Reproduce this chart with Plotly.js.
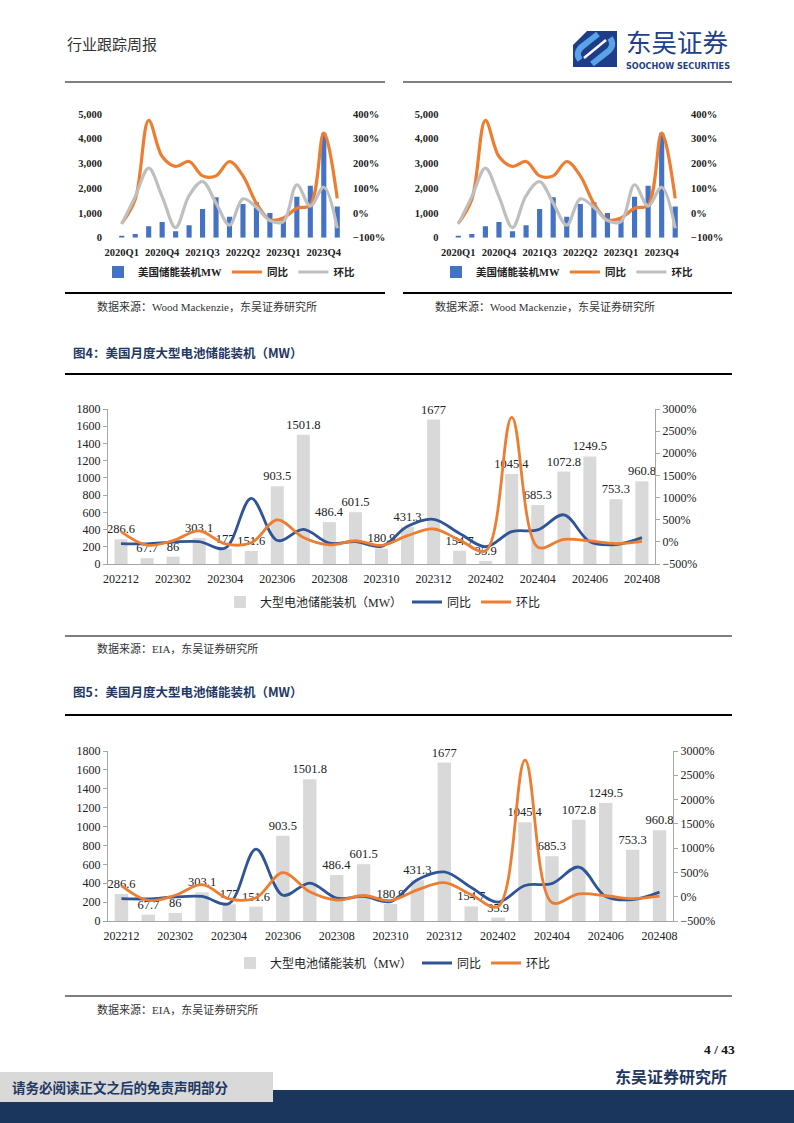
<!DOCTYPE html>
<html>
<head>
<meta charset="utf-8">
<script src="https://cdn.plot.ly/plotly-3.0.1.min.js"></script>
<style>
html,body{margin:0;padding:0;background:#fff;}
#page{width:794px;height:1123px;}
</style>
</head>
<body>
<div id="page"></div>
<script>
// ---------------- DATA ----------------
const quarters = ['2020Q1','2020Q2','2020Q3','2020Q4','2021Q1','2021Q2','2021Q3','2021Q4','2022Q1','2022Q2','2022Q3','2022Q4','2023Q1','2023Q2','2023Q3','2023Q4','2024Q1'];
const usStorageMW = [80,150,460,635,260,500,1160,1640,850,1365,1430,1000,780,1660,2095,4230,1260];
const quarterYoY = [-42,55,374,228,188,208,150,150,208,150,39,-28,-20,19,32,323,59];
const quarterQoQ = [-45,66,181,66,-59,70,127,40,-49,57,23,-31,-35,114,28,104,-62];

const months = ['202212','202301','202302','202303','202304','202305','202306','202307','202308','202309','202310','202311','202312','202401','202402','202403','202404','202405','202406','202407','202408'];
const batteryMW = [286.6,67.7,86,303.1,177,151.6,903.5,1501.8,486.4,601.5,180.9,431.3,1677,154.7,35.9,1045.4,685.3,1072.8,1249.5,753.3,960.8];
const monthYoY = [-40,-45,-5,5,-140,980,30,280,-30,5,-100,350,510,190,-110,230,270,610,5,-60,95];
const monthMoM = [230,-76,30,250,-45,-20,495,100,-68,25,-80,140,290,40,-200,2810,-120,57,20,-40,10];

const quarterNames = ['美国储能装机MW','同比','环比'];
const monthNames = ['大型电池储能装机（MW）','同比','环比'];

// ---------------- HELPERS ----------------
const W = 794, H = 1123;
const X = px => px / W;
const Y = py => 1 - py / H;
const SERIF = 'Liberation Serif, "Noto Sans CJK SC", serif';
const CJK = '"Noto Sans CJK SC", sans-serif';

const traces = [];
const layout = {
  width: W, height: H,
  margin: {l:0, r:0, t:0, b:0},
  paper_bgcolor: '#ffffff',
  plot_bgcolor: 'rgba(0,0,0,0)',
  showlegend: true,
  hovermode: false,
  font: {family: SERIF, color: '#222'},
  shapes: [],
  annotations: []
};

function quarterChart(n, x0, x1, legendX) {
  const xa = 'x' + (n === 1 ? '' : n);
  const yaN = 2*n - 1, ya2N = 2*n;
  const ya = 'y' + (yaN === 1 ? '' : yaN);
  const ya2 = 'y' + ya2N;
  const leg = 'legend' + (n === 1 ? '' : n);
  const tf = {family: SERIF, size: 10.5, weight: 'bold', color: '#222'};
  traces.push({
    type:'bar', x: quarters, y: usStorageMW, name: quarterNames[0],
    xaxis: xa, yaxis: ya, legend: leg, width: 0.38,
    marker:{color:'#4472C4'}
  });
  traces.push({
    type:'scatter', mode:'lines', x: quarters, y: quarterYoY, name: quarterNames[1],
    xaxis: xa, yaxis: ya2, legend: leg,
    line:{color:'#ED7D31', width:3.2, shape:'spline', smoothing:1}
  });
  traces.push({
    type:'scatter', mode:'lines', x: quarters, y: quarterQoQ, name: quarterNames[2],
    xaxis: xa, yaxis: ya2, legend: leg,
    line:{color:'#BFBFBF', width:3.2, shape:'spline', smoothing:1}
  });
  layout['xaxis' + (n===1?'':n)] = {
    domain:[X(x0), X(x1)], anchor: ya, type:'category',
    range:[-0.5, quarters.length - 0.5],
    tickvals: quarters.filter((q,i)=> i % 3 === 0),
    showline:false, showgrid:false, zeroline:false,
    ticks:'outside', ticklen:5, tickcolor:'rgba(0,0,0,0)',
    tickfont: tf, fixedrange:true
  };
  layout['yaxis' + (yaN===1?'':yaN)] = {
    domain:[Y(237.7), Y(114)], anchor: xa,
    range:[0,5000], dtick:1000, tickformat:',d',
    showline:false, showgrid:false, zeroline:false,
    ticks:'outside', ticklen:10, tickcolor:'rgba(0,0,0,0)',
    tickfont: tf, fixedrange:true
  };
  layout['yaxis' + ya2N] = {
    overlaying: ya, side:'right', anchor: xa,
    range:[-100,400], dtick:100, ticksuffix:'%',
    showline:false, showgrid:false, zeroline:false,
    ticks:'outside', ticklen:6, tickcolor:'rgba(0,0,0,0)',
    tickfont: tf, fixedrange:true
  };
  layout[leg] = {
    x: X(legendX), y: Y(272), xanchor:'left', yanchor:'middle',
    orientation:'h', bgcolor:'rgba(0,0,0,0)',
    font:{family:SERIF, size:10.5, weight:'bold', color:'#222'},
    itemwidth:30, tracegroupgap:0
  };
}

function monthChart(n, x0, x1, yTop, yBot, legendX, legendY) {
  const xa = 'x' + n;
  const yaN = 2*n - 1, ya2N = 2*n;
  const ya = 'y' + yaN, ya2 = 'y' + ya2N;
  const leg = 'legend' + n;
  const tf = {family: SERIF, size: 12, color: '#222'};
  traces.push({
    type:'bar', x: months, y: batteryMW, name: monthNames[0],
    xaxis: xa, yaxis: ya, legend: leg, width: 0.5,
    marker:{color:'#D9D9D9'},
    text: batteryMW.map(v => String(v)), textposition:'outside',
    constraintext:'none', cliponaxis:false,
    textfont:{family:SERIF, size:12.5, color:'#222'}
  });
  traces.push({
    type:'scatter', mode:'lines', x: months, y: monthYoY, name: monthNames[1],
    xaxis: xa, yaxis: ya2, legend: leg,
    line:{color:'#2F5597', width:2.8, shape:'spline', smoothing:1}
  });
  traces.push({
    type:'scatter', mode:'lines', x: months, y: monthMoM, name: monthNames[2],
    xaxis: xa, yaxis: ya2, legend: leg,
    line:{color:'#ED7D31', width:2.8, shape:'spline', smoothing:1}
  });
  layout['xaxis' + n] = {
    domain:[X(x0), X(x1)], anchor: ya, type:'category',
    range:[-0.5, months.length - 0.5],
    tickvals: months.filter((m,i)=> i % 2 === 0),
    showline:true, linecolor:'#A6A6A6', linewidth:1,
    showgrid:false, zeroline:false,
    ticks:'outside', ticklen:4, tickcolor:'rgba(0,0,0,0)',
    tickfont: tf, fixedrange:true
  };
  layout['yaxis' + yaN] = {
    domain:[Y(yBot), Y(yTop)], anchor: xa,
    range:[0,1800], dtick:200,
    showline:true, linecolor:'#A6A6A6', linewidth:1,
    showgrid:false, zeroline:false,
    ticks:'outside', ticklen:4, tickcolor:'#A6A6A6',
    tickfont: tf, fixedrange:true
  };
  layout['yaxis' + ya2N] = {
    overlaying: ya, side:'right', anchor: xa,
    range:[-500,3000], dtick:500, ticksuffix:'%',
    showline:true, linecolor:'#A6A6A6', linewidth:1,
    showgrid:false, zeroline:false,
    ticks:'outside', ticklen:4, tickcolor:'#A6A6A6',
    tickfont: tf, fixedrange:true
  };
  layout[leg] = {
    x: X(legendX), y: Y(legendY), xanchor:'left', yanchor:'middle',
    orientation:'h', bgcolor:'rgba(0,0,0,0)',
    font:{family:SERIF, size:12, color:'#222'},
    itemwidth:30, tracegroupgap:0
  };
}

quarterChart(1, 115, 344, 98);
quarterChart(2, 451.5, 682, 436);
monthChart(3, 108, 655, 409, 564, 220, 602);
monthChart(4, 108, 673, 751, 921, 230, 963);

// ---------------- PAGE DECORATION ----------------
function hline(y, xa, xb, w, c) {
  layout.shapes.push({type:'line', xref:'paper', yref:'paper',
    x0:X(xa), x1:X(xb), y0:Y(y), y1:Y(y), line:{color:c||'#000', width:w}});
}
function rect(xa, ya, xb, yb, c) {
  layout.shapes.push({type:'rect', xref:'paper', yref:'paper',
    x0:X(xa), x1:X(xb), y0:Y(yb), y1:Y(ya), fillcolor:c, line:{width:0}, layer:'below'});
}
function txt(s, x, y, opt) {
  opt = opt || {};
  layout.annotations.push({text:s, xref:'paper', yref:'paper', x:X(x), y:Y(y),
    xanchor: opt.xa || 'left', yanchor:'middle', showarrow:false,
    font:{family: opt.family || CJK, size: opt.size || 12, color: opt.color || '#222', weight: opt.weight || 'normal'}});
}
function path(pts, opt) {
  let d = '';
  pts.forEach((p) => {
    if (typeof p === 'string') { d += p + ' '; }
    else { d += X(p[0]) + ',' + Y(p[1]) + ' '; }
  });
  layout.shapes.push(Object.assign({type:'path', xref:'paper', yref:'paper', path:d}, opt));
}

// header
txt('行业跟踪周报', 65, 43, {size:15, color:'#333'});
// logo icon
rect(573, 31, 617, 67, '#1F3C88');
path(['M',[573,31],'L',[587,31],'L',[573,45],'Z'], {fillcolor:'#ffffff', line:{width:0}});
path(['M',[580,60],'Q',[574,52],[584,45],'L',[598,34]], {line:{color:'#5BA3E8', width:6}});
path(['M',[610,38],'Q',[616,46],[606,53],'L',[592,64]], {line:{color:'#5BA3E8', width:6}});
path(['M',[584,58],'L',[606,40]], {line:{color:'#ffffff', width:2.5}});
txt('东吴证券', 624, 41, {size:25.5, color:'#1F3F8A'});
txt('<b>SOOCHOW SECURITIES</b>', 624, 66, {size:9, color:'#1F3F8A', family:'"DejaVu Sans Condensed", "DejaVu Sans", sans-serif'});

// top pair frames
hline(82, 65, 385, 1);
hline(82, 403, 732, 1);
hline(293, 65, 385, 2);
hline(293, 403, 732, 2);
txt('数据来源：Wood Mackenzie，东吴证券研究所', 95, 306, {size:11, color:'#333', family:SERIF});
txt('数据来源：Wood Mackenzie，东吴证券研究所', 433, 306, {size:11, color:'#333', family:SERIF});

// figure 4
txt('<b>图4：美国月度大型电池储能装机（MW）</b>', 71, 352, {size:12.5, color:'#1F3864'});
hline(374, 65, 732, 2);
hline(636, 65, 732, 1);
txt('数据来源：EIA，东吴证券研究所', 95, 648, {size:11, color:'#333', family:SERIF});

// figure 5
txt('<b>图5：美国月度大型电池储能装机（MW）</b>', 71, 691, {size:12.5, color:'#1F3864'});
hline(715, 65, 732, 2);
hline(996, 65, 732, 1);
txt('数据来源：EIA，东吴证券研究所', 95, 1009, {size:11, color:'#333', family:SERIF});

// footer
txt('<b>4 / 43</b>', 737, 1049, {size:13.5, color:'#111', family:SERIF, xa:'right'});
txt('<b>东吴证券研究所</b>', 729, 1076, {size:16, color:'#1F3864', xa:'right'});
rect(0, 1090, 794, 1123, '#1B365D');
rect(0, 1072, 273, 1102, '#D9D9D9');
txt('<b>请务必阅读正文之后的免责声明部分</b>', 10, 1087, {size:13.5, color:'#1F3864'});

Plotly.newPlot('page', traces, layout, {staticPlot:true, displayModeBar:false});
</script>
</body>
</html>
